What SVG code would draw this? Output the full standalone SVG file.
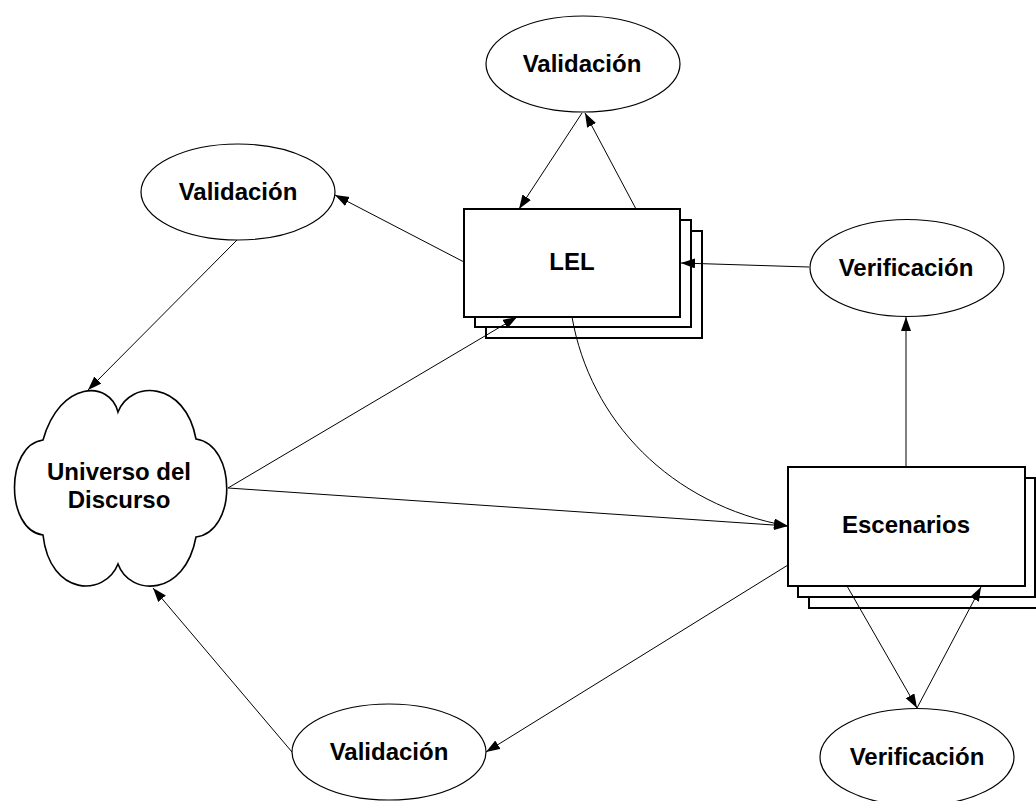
<svg xmlns="http://www.w3.org/2000/svg" width="1036" height="801" viewBox="0 0 1036 801">
<defs>
<marker id="ah" markerUnits="userSpaceOnUse" markerWidth="15" markerHeight="11" refX="14" refY="5" orient="auto">
<path d="M0,0 L14,5 L0,10 z" fill="#000"/>
</marker>
<style>
.lbl{font-family:"Liberation Sans",Arial,sans-serif;font-weight:bold;font-size:24px;fill:#000;text-anchor:middle}
.ell{fill:#fff;stroke:#000;stroke-width:1.2}
.box{fill:#fff;stroke:#000;stroke-width:2}
.cloud{fill:#fff;stroke:#000;stroke-width:1.6}
.con{fill:none;stroke:#000;stroke-width:1;marker-end:url(#ah)}
</style>
</defs>
<rect width="1036" height="801" fill="#fff"/>
<g id="universo">
<path class="cloud" d="M118,412 C130,380 185,380 196,439 C237,445 237,532 196,537 C185,597 130,597 118,564 C105,597 50,597 43,535 C5,530 5,445 43,440 C60,380 110,380 118,412 Z"/>
<text class="lbl" x="119" y="480">Universo del</text>
<text class="lbl" x="119" y="508">Discurso</text>
</g>
<g id="lel">
<rect class="box" x="486" y="231" width="216" height="107"/>
<rect class="box" x="475" y="220" width="216" height="107"/>
<rect class="box" x="464" y="209" width="216" height="108"/>
<text class="lbl" x="572" y="270">LEL</text>
</g>
<g id="escenarios">
<rect class="box" x="809" y="489" width="237" height="119"/>
<rect class="box" x="798" y="478" width="237" height="119"/>
<rect class="box" x="788" y="467" width="237" height="119"/>
<text class="lbl" x="906" y="533">Escenarios</text>
</g>
<g id="validacion-top">
<ellipse class="ell" cx="583" cy="64" rx="97" ry="48"/>
<text class="lbl" x="582" y="72">Validación</text>
</g>
<g id="validacion-left">
<ellipse class="ell" cx="238" cy="192" rx="97" ry="48"/>
<text class="lbl" x="238" y="200">Validación</text>
</g>
<g id="verificacion-right">
<ellipse class="ell" cx="907" cy="268" rx="97" ry="48.5"/>
<text class="lbl" x="906" y="276">Verificación</text>
</g>
<g id="validacion-bottom">
<ellipse class="ell" cx="389" cy="752" rx="97" ry="48"/>
<text class="lbl" x="389" y="760">Validación</text>
</g>
<g id="verificacion-bottom">
<ellipse class="ell" cx="917" cy="757" rx="97" ry="48.5"/>
<text class="lbl" x="917" y="765">Verificación</text>
</g>
<g id="connectors">
<path class="con" d="M582,113 L519,209"/>
<path class="con" d="M636,209 L585,113"/>
<path class="con" d="M464,262 L335,195"/>
<path class="con" d="M237,240 L88,390"/>
<path class="con" d="M228,488 L517,317"/>
<path class="con" d="M228,488 L788,526"/>
<path class="con" d="M572,317 C590,420 670,505 788,526"/>
<path class="con" d="M809,267 L681,263"/>
<path class="con" d="M906,467 L906,317"/>
<path class="con" d="M788,565 L486,752"/>
<path class="con" d="M292,752 L153,588"/>
<path class="con" d="M847,586 L917,708"/>
<path class="con" d="M917,708 L981,587"/>
</g>
</svg>
